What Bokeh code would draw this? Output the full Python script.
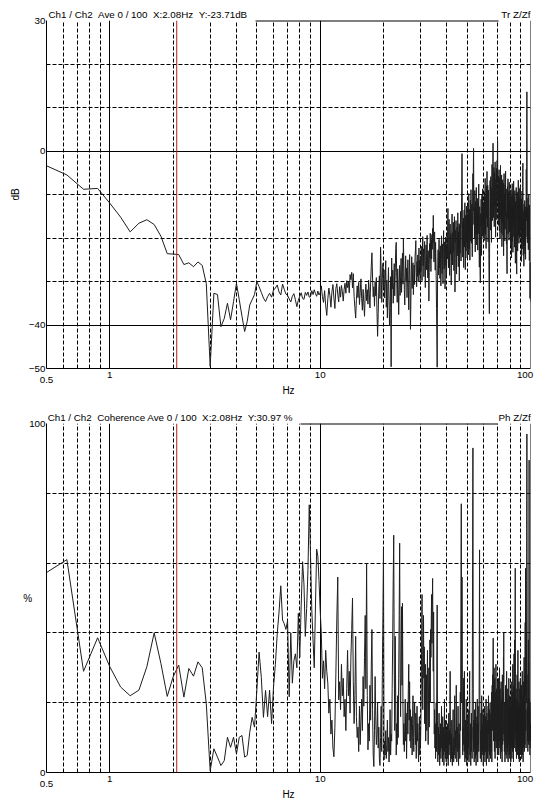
import numpy as np
from bokeh.plotting import figure
from bokeh.models import (FixedTicker, Grid, Span, ColumnDataSource, BasicTickFormatter,
                          LogAxis)
from bokeh.layouts import column
from bokeh.embed import file_html
from bokeh.resources import INLINE

# ---------------- data ----------------
F_START, F_STEP = 0.5, 0.125       # FFT bin grid (Hz)
CURSOR_HZ = 2.08
top_title = "Ch1 / Ch2  Ave 0 / 100  X:2.08Hz  Y:-23.71dB"
top_tag = "Tr Z/Zf"
bot_title = "Ch1 / Ch2  Coherence Ave 0 / 100  X:2.08Hz  Y:30.97 %"
bot_tag = "Ph Z/Zf"

x_dashed = [0.6, 0.7, 0.8, 0.9, 2, 3, 4, 5, 6, 7, 8, 9, 20, 30, 40, 50, 60, 70, 80, 90]
x_solid = [1, 10]
x_ticks = [0.5, 1, 10, 100]
x_tick_labels = ["0.5", "1", "10", "100"]
db_ticks = [30, 0, -40, -50]
db_solid = [0, -40]
db_dashed = [20, 10, -10, -20, -30]
coh_ticks = [0, 100]
coh_dashed = [20, 40, 60, 80]

# transfer function magnitude (dB)
db_0_3 = [-3.4, -5.5, -8.8, -8.6, -12.0, -15.2, -18.6, -16.6, -15.8, -16.9, -19.6,
          -23.6, -23.7, -23.8, -26.1, -25.7, -26.6, -25.5, -26.3, -30.5, -49.5]
db_3_10 = [-32.7, -33.0, -40.4, -38.5, -35.0, -38.8, -34.6, -30.4,
           -34.2, -38.0, -41.5, -39.2, -35.4, -34.2, -33.0, -30.0,
           -31.2, -32.5, -33.8, -34.6, -33.5, -32.7, -33.6, -32.0,
           -31.5, -30.8, -32.4, -33.1, -30.6, -31.8, -32.9, -33.2,
           -34.0, -34.7, -33.4, -32.8, -34.2, -35.8, -34.3, -33.4,
           -32.6, -33.9, -34.1, -32.5, -33.2, -32.4, -33.6, -33.5,
           -32.1, -33.0, -31.9, -32.8, -33.4, -32.2, -33.1, -32.6]
db_10_20 = [-31.0, -33.5, -34.8, -32.1, -35.6, -37.8, -34.0, -31.5,
            -33.2, -35.9, -32.4, -30.7, -33.8, -36.2, -31.6, -30.5,
            -32.9, -34.7, -31.2, -33.6, -30.9, -32.3, -34.5, -31.8,
            -30.4, -32.7, -29.8, -31.4, -30.1, -32.6, -28.4, -29.6,
            -27.9, -31.5, -28.2, -33.4, -36.0, -38.4, -34.1, -31.0,
            -33.7, -30.2, -35.3, -32.5, -29.4, -33.9, -36.6, -31.8,
            -34.9, -38.0, -33.0, -30.6, -34.4, -31.9, -35.2, -29.7,
            -32.8, -36.1, -30.3, -26.5, -23.4, -29.2, -33.5, -31.2,
            -35.7, -30.0, -33.3, -29.1, -36.8, -42.6, -37.4, -31.5,
            -28.7, -33.9, -22.1, -27.6, -34.8, -29.3, -25.8, -31.4]
db_20_30 = [-27.3, -33.8, -30.5, -25.2, -35.9, -29.7, -38.4, -32.0,
            -26.8, -34.5, -40.2, -36.0, -28.9, -49.6, -24.6, -31.7,
            -27.4, -35.0, -30.2, -25.9, -33.3, -28.0, -22.4, -21.0,
            -29.5, -34.8, -27.1, -31.9, -37.6, -30.8, -26.3, -33.2,
            -29.0, -24.7, -32.5, -27.8, -23.5, -30.6, -20.2, -26.4,
            -31.8, -35.4, -28.3, -24.1, -30.0, -26.9, -33.7, -29.2,
            -25.0, -31.3, -36.5, -28.6, -23.8, -30.9, -41.0, -34.2,
            -27.5, -24.3, -31.6, -28.1, -25.7, -33.0, -29.4, -26.2,
            -30.7, -24.5, -22.8, -20.6, -27.9, -31.2, -25.4, -28.8,
            -23.9, -30.1, -26.6, -22.3, -28.4, -25.1, -29.9, -24.2]
db_30_40 = [-27.6, -21.9, -25.3, -29.8, -23.1, -19.7, -26.4, -22.5,
            -28.9, -24.0, -20.8, -26.7, -31.4, -25.2, -21.6, -27.3,
            -23.7, -19.4, -25.8, -29.2, -22.9, -26.1, -34.5, -28.0,
            -21.3, -24.6, -18.9, -23.4, -27.7, -20.5, -24.8, -19.2,
            -22.6, -17.8, -21.1, -14.8, -19.9, -25.5, -22.2, -18.6,
            -23.9, -27.4, -21.0, -24.3, -29.6, -36.2, -42.8, -49.7,
            -31.5, -26.2, -22.7, -28.5, -24.4, -20.3, -26.9, -23.2,
            -29.3, -21.8, -25.6, -31.0, -23.6, -19.5, -24.9, -28.2,
            -21.4, -26.0, -30.5, -22.1, -18.3, -24.7, -27.1, -20.9,
            -25.4, -31.7, -23.3, -19.8, -26.3, -22.0, -28.6, -24.1]
db_40_50 = [-19.6, -24.8, -17.3, -13.2, -21.5, -26.9, -18.4, -15.7,
            -22.3, -28.6, -20.1, -16.8, -23.7, -19.0, -25.4, -30.8,
            -22.6, -17.9, -14.5, -20.7, -26.2, -18.8, -23.1, -16.4,
            -21.9, -27.5, -19.3, -15.1, -22.0, -32.4, -24.7, -18.2,
            -20.9, -16.0, -23.8, -28.3, -21.2, -17.5, -24.1, -19.8,
            -14.2, -20.4, -26.6, -18.6, -22.8, -16.7, -29.9, -21.7,
            -17.1, -23.5, -19.4, -13.9, -20.2, -25.3, -18.0, -12.4,
            -7.5, -0.6, -10.8, -19.1, -24.4, -16.3, -21.4, -15.4,
            -26.8, -19.7, -13.6, -22.1, -17.4, -11.9, -20.5, -27.3,
            -18.9, -14.8, -23.0, -17.7, -12.7, -21.1, -16.1, -24.6]
db_50_60 = [-15.3, -21.8, -12.6, -18.4, -23.9, -14.7, -9.8, -17.2,
            -22.5, -13.4, -19.6, -25.1, -16.0, -11.3, -20.7, -15.8,
            -8.9, -14.1, -21.2, -17.6, -12.2, -19.9, -24.3, -16.5,
            -10.4, -5.2, -13.8, -3.4, 0.6, -9.7, -16.9, -12.9,
            -20.1, -14.6, -9.1, -17.8, -23.2, -15.0, -11.6, -19.3,
            -13.7, -8.4, -16.2, -21.6, -14.3, -18.7, -10.9, -16.6,
            -22.8, -15.5, -12.0, -19.0, -13.1, -7.6, -15.9, -20.4,
            -26.7, -18.1, -12.8, -22.2, -28.4, -30.3, -21.5, -14.4,
            -17.3, -11.1, -18.5, -24.0, -15.6, -10.2, -13.3, -19.5,
            -14.9, -8.7, -16.4, -11.7, -20.0, -15.2, -12.3, -17.0]
db_60_70 = [-12.5, -18.9, -9.4, -14.0, -20.6, -11.8, -6.3, -13.9,
            -19.2, -10.5, -16.1, -22.4, -13.0, -8.0, -15.4, -11.2,
            -4.7, -10.1, -17.5, -12.7, -7.9, -14.8, -20.9, -13.6,
            -9.0, -16.7, -23.6, -28.8, -34.1, -37.4, -25.0, -15.1,
            -10.6, -6.8, -12.4, -18.2, -11.0, -5.9, -13.2, -8.5,
            -15.7, -21.0, -12.1, -7.3, -3.1, -9.9, -16.0, -11.4,
            -6.0, -1.2, 1.8, -4.4, -10.7, -15.3, -8.8, -3.8,
            -11.9, -17.4, -9.6, -5.0, -12.6, -7.1, -2.5, -9.3,
            -14.5, -19.8, -11.5, -6.5, -13.4, -8.2, -4.0, -10.3,
            -15.8, -7.7, -2.2, -6.9, -0.4, 2.4, -5.4, -11.6]
db_70_80 = [-8.6, -14.2, -5.8, -10.9, -17.1, -9.2, -4.3, -12.0,
            -18.3, -10.0, -6.1, -13.5, -20.2, -11.7, -7.0, -3.3,
            -9.5, -15.6, -8.3, -12.9, -18.8, -10.4, -5.5, -13.0,
            -22.0, -14.9, -9.0, -16.5, -11.1, -6.6, -14.0, -19.4,
            -12.2, -7.4, -15.2, -24.1, -16.8, -10.8, -5.2, -12.8,
            -17.9, -9.8, -14.6, -20.7, -12.3, -7.8, -15.0, -10.1,
            -4.6, -11.3, -18.0, -13.1, -8.7, -16.2, -21.4, -14.1,
            -20.3, -26.0, -28.2, -19.6, -12.5, -8.1, -15.5, -10.6,
            -6.4, -13.8, -19.1, -11.0, -16.4, -9.3, -13.7, -20.5,
            -12.0, -7.2, -14.4, -18.6, -11.5, -16.9, -9.7, -14.3]
db_80_90 = [-18.2, -11.4, -15.9, -21.7, -13.3, -8.9, -16.0, -12.1,
            -19.0, -24.6, -15.1, -10.3, -17.4, -13.0, -7.5, -14.7,
            -20.8, -12.6, -18.1, -23.3, -14.2, -9.6, -16.6, -11.8,
            -6.9, -13.9, -19.7, -12.9, -17.8, -10.5, -15.3, -22.1,
            -14.8, -9.1, -16.3, -12.4, -18.5, -25.8, -17.0, -11.6,
            -14.5, -20.3, -13.2, -8.4, -15.6, -21.5, -26.4, -28.3,
            -19.2, -13.6, -9.4, -15.8, -11.2, -17.3, -23.0, -14.0,
            -10.0, -16.8, -12.7, -6.7, -13.5, -19.4, -11.9, -16.1,
            -21.2, -13.1, -8.6, -15.4, -20.0, -12.3, -17.6, -10.7,
            -14.9, -19.9, -12.8, -8.1, -16.5, -11.3, -18.3, -13.4]
db_90_100 = [-17.9, -12.0, -20.6, -25.4, -16.4, -11.0, -18.7, -14.1,
             -9.2, -16.2, -22.5, -15.0, -19.6, -12.5, -5.6, -2.8,
             -11.7, -17.1, -24.0, -15.7, -20.9, -13.8, -18.8, -26.5,
             -17.5, -12.2, -19.3, -14.4, -21.8, -16.9, -11.4, -18.4,
             -23.7, -15.2, -20.2, -13.3, -17.7, -24.9, -16.7, -12.8,
             -19.8, -14.6, -9.5, -4.2, -10.1, -16.0, -3.5, 5.8,
             13.6, 4.1, -8.3, -15.9, -21.1, -13.7, -18.2, -12.9,
             -20.4, -15.3, -10.8, -17.2, -22.7, -14.7, -19.5, -13.0,
             -9.9, -16.6, -21.9, -14.2, -19.0, -25.2, -17.4, -12.4,
             -18.0, -23.5, -28.7, -33.9, -30.2, -25.6, -31.5, -34.6]

# coherence (%)
coh_0_3 = [57.3, 61.0, 29.0, 38.6, 30.3, 24.5, 22.0, 23.6, 30.3, 40.0, 31.2,
           21.8, 27.4, 30.8, 21.6, 29.8, 27.6, 31.7, 30.0, 19.7, 0.5]
coh_3_10 = [6.8, 4.4, 2.0, 3.4, 10.1, 7.2, 10.1, 5.3,
            10.1, 10.6, 4.4, 4.9, 11.5, 15.8, 13.0, 23.5,
            34.5, 27.3, 15.8, 23.5, 16.0, 23.6, 14.0, 24.4,
            31.0, 39.7, 46.0, 53.5, 43.7, 42.6, 41.0, 43.5,
            21.7, 40.0, 25.6, 32.0, 34.0, 30.0, 45.6, 33.0,
            48.0, 60.4, 54.0, 39.0, 47.0, 58.0, 76.7, 62.0,
            46.6, 38.0, 30.0, 48.0, 64.0, 62.0, 55.0, 46.6]
coh_10_20 = [40, 27, 32, 24, 35, 29, 25.6, 17,
             21, 11, 15, 7, 4.5, 13, 28, 44,
             56, 20.8, 26, 18, 31, 22, 27, 16,
             21, 12, 24, 35, 22, 29, 17, 33,
             41, 50, 26, 14, 22, 39, 16, 10,
             13, 6, 19, 8, 15, 21, 12, 27.5,
             19, 33, 45, 24, 60, 22, 6.5, 14,
             9, 25, 15, 30, 41, 18, 5, 1.7,
             12, 27.5, 16, 8, 11, 20, 7, 13,
             4, 2, 10, 19, 6, 28, 45, 64]
coh_20_30 = [3.6, 9, 5, 12, 4, 8, 15, 6,
             10, 3, 7, 18, 5, 11, 9, 24,
             38, 55, 68, 30, 12, 39, 20, 5,
             14, 8, 22, 10, 27, 45, 65.7, 28,
             16, 33, 47.5, 25, 48.5, 19, 8, 14,
             6, 12, 21, 9, 17, 4, 13, 20,
             11, 24, 31, 15, 26, 9, 18, 7,
             16, 12, 5, 14, 22, 10, 6, 15,
             20, 13, 8, 17, 4, 11, 19, 9,
             14, 7, 3, 10, 16, 5, 12, 8]
coh_30_40 = [15, 24, 38, 51, 29, 18, 34, 45,
             27, 36, 14, 22, 31, 9, 19, 28,
             12, 25, 35, 17, 8, 21, 30, 13,
             26, 38, 20, 41, 33, 44, 51, 37,
             48, 55.6, 40, 29, 46, 23, 11, 18,
             7, 14, 4, 10, 20, 6, 32, 48,
             15, 3, 9, 13, 5, 17, 8, 2,
             11, 6, 14, 4, 9, 19, 7, 12,
             3, 16, 8, 5, 13, 2, 10, 21,
             6, 11, 4, 15, 8, 3, 12, 7]
coh_40_50 = [10, 4, 14, 6, 2, 9, 17, 5,
             12, 8, 20, 29, 13, 3, 7, 11,
             4, 15, 9, 2, 6, 13, 18, 8,
             3, 10, 5, 14, 22, 9, 4, 12,
             7, 16, 25, 11, 3, 8, 13, 6,
             10, 19, 5, 2, 9, 14, 7, 11,
             4, 16, 23, 12, 38, 60, 77, 45,
             20, 56, 31, 9, 5, 13, 8, 18,
             27, 11, 6, 29, 14, 3, 10, 7,
             15, 4, 12, 21, 8, 2, 11, 16]
coh_50_60 = [6, 13, 4, 9, 18, 7, 12, 3,
             15, 22, 29, 10, 5, 14, 8, 2,
             11, 6, 17, 9, 13, 4, 24, 48,
             75, 93, 40, 12, 6, 15, 9, 3,
             11, 18, 7, 13, 4, 10, 20, 8,
             2, 14, 9, 5, 16, 11, 21, 7,
             3, 12, 19, 8, 14, 6, 10, 25,
             42, 63.8, 33, 15, 9, 4, 12, 7,
             17, 10, 3, 13, 22, 8, 5, 14,
             11, 6, 18, 9, 2, 12, 16, 7]
coh_60_70 = [13, 5, 10, 19, 8, 3, 14, 9,
             16, 6, 11, 21, 7, 2, 12, 17,
             8, 13, 4, 10, 15, 6, 19, 11,
             22, 14, 7, 3, 12, 18, 9, 5,
             13, 20, 8, 15, 4, 11, 17, 6,
             14, 23, 10, 3, 16, 25, 12, 19,
             28, 15, 34, 38.5, 21, 9, 26, 17,
             30, 13, 6, 20, 27, 11, 4, 16,
             23, 9, 14, 31, 18, 7, 12, 24,
             15, 19, 22, 10, 5, 17, 26, 13]
coh_70_80 = [8, 19, 27, 12, 5, 16, 22, 9,
             14, 30, 18, 7, 11, 24, 15, 4,
             13, 20, 9, 26, 17, 6, 12, 21,
             10, 3, 15, 28, 19, 8, 14, 23,
             11, 18, 33, 26, 40, 22, 9, 15,
             6, 12, 20, 8, 3, 13, 18, 10,
             25, 14, 5, 11, 19, 7, 16, 29,
             12, 4, 9, 21, 14, 6, 17, 24,
             10, 3, 13, 19, 8, 15, 27, 11,
             5, 16, 22, 9, 13, 4, 18, 10]
coh_80_90 = [14, 6, 21, 12, 3, 9, 17, 26,
             13, 7, 19, 10, 4, 15, 23, 11,
             6, 18, 31, 14, 8, 20, 12, 3,
             16, 25, 10, 34, 19, 7, 13, 22,
             38, 17, 30, 45, 58.5, 27, 11, 20,
             6, 14, 24, 9, 16, 4, 12, 21,
             8, 15, 28, 13, 5, 18, 10, 23,
             35, 16, 7, 12, 20, 4, 11, 17,
             26, 9, 14, 3, 10, 19, 8, 24,
             13, 5, 16, 27, 11, 7, 15, 9]
coh_90_100 = [18, 6, 12, 25, 14, 4, 10, 20,
              8, 16, 29, 13, 5, 11, 22, 9,
              17, 3, 12, 26, 15, 7, 19, 10,
              24, 33, 14, 6, 21, 11, 28, 16,
              8, 30, 43, 22, 35, 58.5, 26, 12,
              18, 7, 24, 40, 20, 31, 55, 78,
              97, 70, 42, 25, 15, 9, 19, 13,
              6, 17, 28, 11, 22, 38, 16, 8,
              27, 46, 70, 89.5, 60, 32, 14, 21,
              9, 18, 5, 12, 20, 7, 14, 9]

db = (db_0_3 + db_3_10 + db_10_20 + db_20_30 + db_30_40 + db_40_50 + db_50_60
      + db_60_70 + db_70_80 + db_80_90 + db_90_100)
coh = (coh_0_3 + coh_3_10 + coh_10_20 + coh_20_30 + coh_30_40 + coh_40_50 + coh_50_60
       + coh_60_70 + coh_70_80 + coh_80_90 + coh_90_100)
if len(db) != 797 or len(coh) != 797:
    raise SystemExit("length mismatch db=%d coh=%d" % (len(db), len(coh)))
freq = F_START + F_STEP * np.arange(len(db))

# ---------------- style / layout constants ----------------
FONT = "Liberation Sans"
FS = "9.8px"
LINE = "#1e1e1e"
RED = "#b41e1e"
FIG_W = 545
# header texts are centred at these x positions (Hz on the log axis)
TOP_HEAD_AT = (1.516, 85.2)
BOT_HEAD_AT = (1.94, 84.0)
# the top frame line is only visible between the header texts
TOP_GAP = (4.93, 70.5)
BOT_GAP = (8.07, 69.8)


def keep_spaces(s):
    # keep the double spaces of the instrument header visible in SVG
    return s.replace("  ", " \u00a0")


def style_axis(ax):
    ax.major_tick_out = 0
    ax.major_tick_in = 0
    ax.minor_tick_out = 0
    ax.minor_tick_in = 0
    ax.axis_line_color = "black"
    ax.axis_line_width = 1
    ax.major_label_text_font = FONT
    ax.major_label_text_font_size = FS
    ax.major_label_text_color = "black"
    ax.axis_label_text_font = FONT
    ax.axis_label_text_font_size = "10px"
    ax.axis_label_text_font_style = "normal"
    ax.axis_label_text_color = "black"


def make_fig(height, b_top, b_bottom, y_range, y_ticks, y_label, y_label_orient,
             y_standoff, solid_h, dashed_h, ys, title, tag, head_at, gap):
    p = figure(width=FIG_W, height=height, x_axis_type="log", x_range=(0.5, 100),
               y_range=y_range, output_backend="svg", toolbar_location=None,
               min_border_left=46, min_border_right=15, min_border_top=b_top,
               min_border_bottom=b_bottom)
    p.outline_line_color = None
    p.background_fill_color = "white"
    p.border_fill_color = "white"
    p.xgrid.visible = False
    p.ygrid.visible = False

    # grid
    p.add_layout(Grid(dimension=0, ticker=FixedTicker(ticks=x_dashed),
                      grid_line_color="black", grid_line_dash="4 2", grid_line_width=1))
    p.add_layout(Grid(dimension=0, ticker=FixedTicker(ticks=x_solid),
                      grid_line_color="black", grid_line_width=1))
    p.add_layout(Grid(dimension=1, ticker=FixedTicker(ticks=dashed_h),
                      grid_line_color="black", grid_line_dash="4 2", grid_line_width=1))
    if solid_h:
        p.add_layout(Grid(dimension=1, ticker=FixedTicker(ticks=solid_h),
                          grid_line_color="black", grid_line_width=1))

    # axes
    style_axis(p.xaxis[0])
    style_axis(p.yaxis[0])
    p.yaxis.ticker = FixedTicker(ticks=y_ticks)
    p.yaxis.formatter = BasicTickFormatter()
    p.yaxis.major_label_standoff = 1
    p.yaxis.axis_label = y_label
    p.yaxis.axis_label_orientation = y_label_orient
    p.yaxis.axis_label_standoff = y_standoff
    p.xaxis.ticker = FixedTicker(ticks=x_ticks)
    p.xaxis.formatter = BasicTickFormatter()
    ov = dict(zip(x_ticks, x_tick_labels))
    ov[x_ticks[0]] = "\n" + x_tick_labels[0]
    ov[x_ticks[-1]] = x_tick_labels[-1] + "\u2007\u2007"
    p.xaxis.major_label_overrides = ov
    p.xaxis.major_label_text_line_height = 0.5
    p.xaxis.major_label_standoff = 0
    p.xaxis.axis_label = "Hz"
    p.xaxis.axis_label_standoff = -3

    # header line above the frame (as labels of a top axis)
    top = LogAxis(ticker=FixedTicker(ticks=list(head_at)),
                  major_label_overrides={head_at[0]: keep_spaces(title), head_at[1]: tag})
    style_axis(top)
    top.axis_line_color = None
    top.major_label_standoff = 1
    p.add_layout(top, "above")

    # data
    src = ColumnDataSource(dict(f=freq, v=ys))
    p.line("f", "v", source=src, line_color=LINE, line_width=1)

    # frame borders (top part & right), cursor
    p.segment(x0=[gap[0]], x1=[gap[1]], y0=[y_range[1]], y1=[y_range[1]],
              line_color="black", line_width=2)
    p.add_layout(Span(location=100, dimension="height", line_color="black", line_width=1))
    p.add_layout(Span(location=CURSOR_HZ, dimension="height", line_color=RED, line_width=1))
    return p


p1 = make_fig(400, 20, 32, (-50, 30), db_ticks, "dB", "vertical", 5,
              db_solid, db_dashed, db, top_title, top_tag, TOP_HEAD_AT, TOP_GAP)
p2 = make_fig(403, 23, 31, (0, 100), coh_ticks, "%", "horizontal", -6,
              [], coh_dashed, coh, bot_title, bot_tag, BOT_HEAD_AT, BOT_GAP)

layout = column(p1, p2, spacing=0)
open("out.html", "w").write(file_html(layout, INLINE))
